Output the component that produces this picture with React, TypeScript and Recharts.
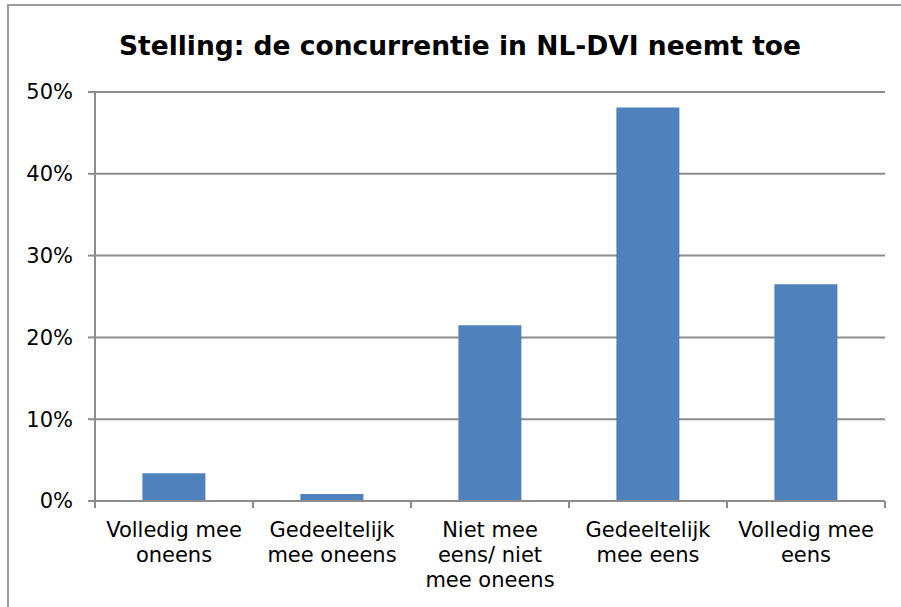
import React from 'react';
import { BarChart, Bar, XAxis, YAxis, CartesianGrid } from 'recharts';

const categories = [
  'Volledig mee\noneens',
  'Gedeeltelijk\nmee oneens',
  'Niet mee\neens/ niet\nmee oneens',
  'Gedeeltelijk\nmee eens',
  'Volledig mee\neens',
];
const values = [3.4, 0.85, 21.5, 48.1, 26.5];
const yTicks = [0, 10, 20, 30, 40, 50];
const title = 'Stelling: de concurrentie in NL-DVI neemt toe';

const data = categories.map((c, i) => ({ name: c, value: values[i] }));

const FONT = '"DejaVu Sans", Verdana, sans-serif';
const GRID = '#8c8c8c';

const CategoryTick = (props: any) => {
  const { x, y, payload, index, visibleTicksCount } = props;
  const off = payload && typeof payload.offset === 'number' ? payload.offset : 0;
  const lines = String(payload.value).split('\n');
  const isLast = index === (visibleTicksCount ?? categories.length) - 1;
  return (
    <g>
      <line x1={x - off} x2={x - off} y1={y} y2={y + 7} stroke={GRID} strokeWidth={2} />
      {isLast && <line x1={x + off} x2={x + off} y1={y} y2={y + 7} stroke={GRID} strokeWidth={2} />}
      <text x={x} y={y + 36} textAnchor="middle" fontFamily={FONT} fontSize={21} fill="#000">
        {lines.map((l, i) => (
          <tspan key={i} x={x} dy={i === 0 ? 0 : 25}>{l}</tspan>
        ))}
      </text>
    </g>
  );
};

export default function App() {
  return (
    <div style={{ position: 'absolute', left: 0, top: 0, width: 901, height: 607, background: '#fff', overflow: 'hidden' }}>
      <div style={{ position: 'absolute', left: 7, top: 4, width: 900, height: 610, borderLeft: '2px solid #9a9a9a', borderTop: '2px solid #9a9a9a' }} />
      <div style={{ position: 'absolute', left: 60, top: 33, width: 800, textAlign: 'center', fontFamily: FONT, fontWeight: 'bold', fontSize: 26.5, lineHeight: '26px', color: '#000', whiteSpace: 'nowrap' }}>
        {title}
      </div>
      <div style={{ position: 'absolute', left: 0, top: 0 }}>
        <BarChart width={901} height={607} data={data} margin={{ top: 92, right: 16, bottom: 0, left: 0 }} barCategoryGap="30%">
          <CartesianGrid vertical={false} stroke={GRID} strokeWidth={2} />
          <XAxis
            dataKey="name"
            interval={0}
            height={106}
            tickSize={0}
            tickMargin={0}
            tickLine={false}
            axisLine={{ stroke: GRID, strokeWidth: 2 }}
            tick={<CategoryTick />}
          />
          <YAxis
            width={95}
            domain={[0, 50]}
            ticks={yTicks}
            interval={0}
            tickFormatter={(v: number) => `${v}%`}
            tickSize={7}
            tickMargin={15}
            tickLine={{ stroke: GRID, strokeWidth: 2 }}
            axisLine={{ stroke: GRID, strokeWidth: 2 }}
            tick={{ fontFamily: FONT, fontSize: 21, fill: '#000' }}
          />
          <Bar dataKey="value" fill="#4F81BD" isAnimationActive={false} />
        </BarChart>
      </div>
    </div>
  );
}
